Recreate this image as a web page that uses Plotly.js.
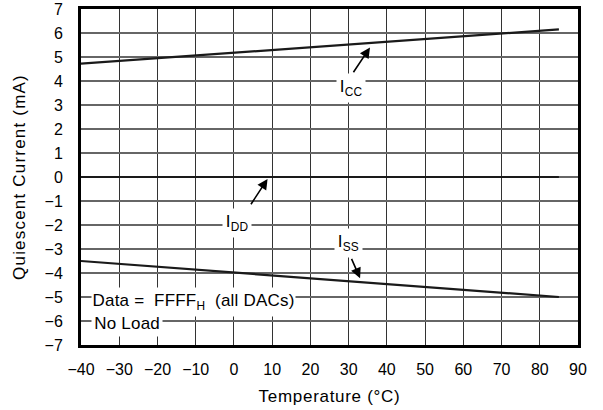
<!DOCTYPE html>
<html>
<head>
<meta charset="utf-8">
<script src="https://cdn.plot.ly/plotly-3.0.1.min.js"></script>
<style>
html,body{margin:0;padding:0;background:#fff}
#chart{width:603px;height:410px}
#chart .xtitle{letter-spacing:0.7px}
#chart .ytitle{letter-spacing:1.2px}
#chart .annotation-text{letter-spacing:0.2px}
</style>
</head>
<body>
<div id="chart"></div>
<script>
// Data
var temps = [-40, 85];
var icc = [4.72, 6.15];
var idd = [0, 0];
var iss = [-3.5, -5.0];
var xTicks = [-40, -30, -20, -10, 0, 10, 20, 30, 40, 50, 60, 70, 80, 90];
var yTicks = [-7, -6, -5, -4, -3, -2, -1, 0, 1, 2, 3, 4, 5, 6, 7];

var lineStyle = {color: '#1a1a1a', width: 2.2};
var traces = [
  {x: temps, y: icc, mode: 'lines', line: lineStyle, name: 'ICC', hoverinfo: 'skip'},
  {x: temps, y: idd, mode: 'lines', line: lineStyle, name: 'IDD', hoverinfo: 'skip'},
  {x: temps, y: iss, mode: 'lines', line: lineStyle, name: 'ISS', hoverinfo: 'skip'}
];

var fam = 'Liberation Sans, Arial, sans-serif';
var tickFont = {family: fam, size: 16, color: '#000'};
var titleFont = {family: fam, size: 17, color: '#000'};
var annFont = {family: fam, size: 17, color: '#000'};

function label(txt, x, y) {
  return {x: x, y: y, xref: 'x', yref: 'y', text: txt, showarrow: false,
    bgcolor: '#fff', font: annFont, borderpad: 3};
}
function arrow(x, y, ax, ay) {
  return {x: x, y: y, ax: ax, ay: ay, xref: 'x', yref: 'y', axref: 'x', ayref: 'y',
    text: '', showarrow: true, arrowhead: 2, arrowsize: 1.3, arrowwidth: 1.6, arrowcolor: '#000'};
}

var layout = {
  width: 603, height: 410,
  margin: {l: 81, r: 25, t: 9, b: 65},
  paper_bgcolor: '#fff', plot_bgcolor: '#fff',
  showlegend: false,
  font: tickFont,
  xaxis: {
    range: [-40, 90], tickvals: xTicks, ticks: '', showgrid: true,
    gridcolor: '#333', gridwidth: 1, zeroline: false,
    showline: true, mirror: true, linecolor: '#000', linewidth: 3,
    tickfont: tickFont, ticklabelstandoff: 8,
    title: {text: 'Temperature (°C)', font: titleFont, standoff: 13}
  },
  yaxis: {
    range: [-7, 7], tickvals: yTicks, ticks: '', showgrid: true,
    gridcolor: '#666', gridwidth: 1.4, zeroline: false,
    showline: true, mirror: true, linecolor: '#000', linewidth: 3,
    tickfont: tickFont, ticklabelstandoff: 12,
    title: {text: 'Quiescent Current (mA)', font: titleFont, standoff: 15}
  },
  annotations: [
    label('I<sub>CC</sub>', 30.5, 3.72),
    arrow(35.6, 5.4, 31, 4.3),
    label('I<sub>DD</sub>', 0.9, -1.91),
    arrow(8.8, -0.08, 4.2, -1.2),
    label('I<sub>SS</sub>', 30, -2.76),
    arrow(33, -4.22, 30.6, -3.35),
    {x: -40, y: -5.2, xref: 'x', yref: 'y', xanchor: 'left', text: 'Data =  FFFF<sub>H</sub>  (all DACs)',
      showarrow: false, bgcolor: '#fff', font: annFont, xshift: 10, borderpad: 3},
    {x: -40, y: -6.1, xref: 'x', yref: 'y', xanchor: 'left', text: 'No Load',
      showarrow: false, bgcolor: '#fff', font: annFont, xshift: 10, borderpad: 3}
  ]
};

Plotly.newPlot('chart', traces, layout, {staticPlot: true, displayModeBar: false});
</script>
</body>
</html>
